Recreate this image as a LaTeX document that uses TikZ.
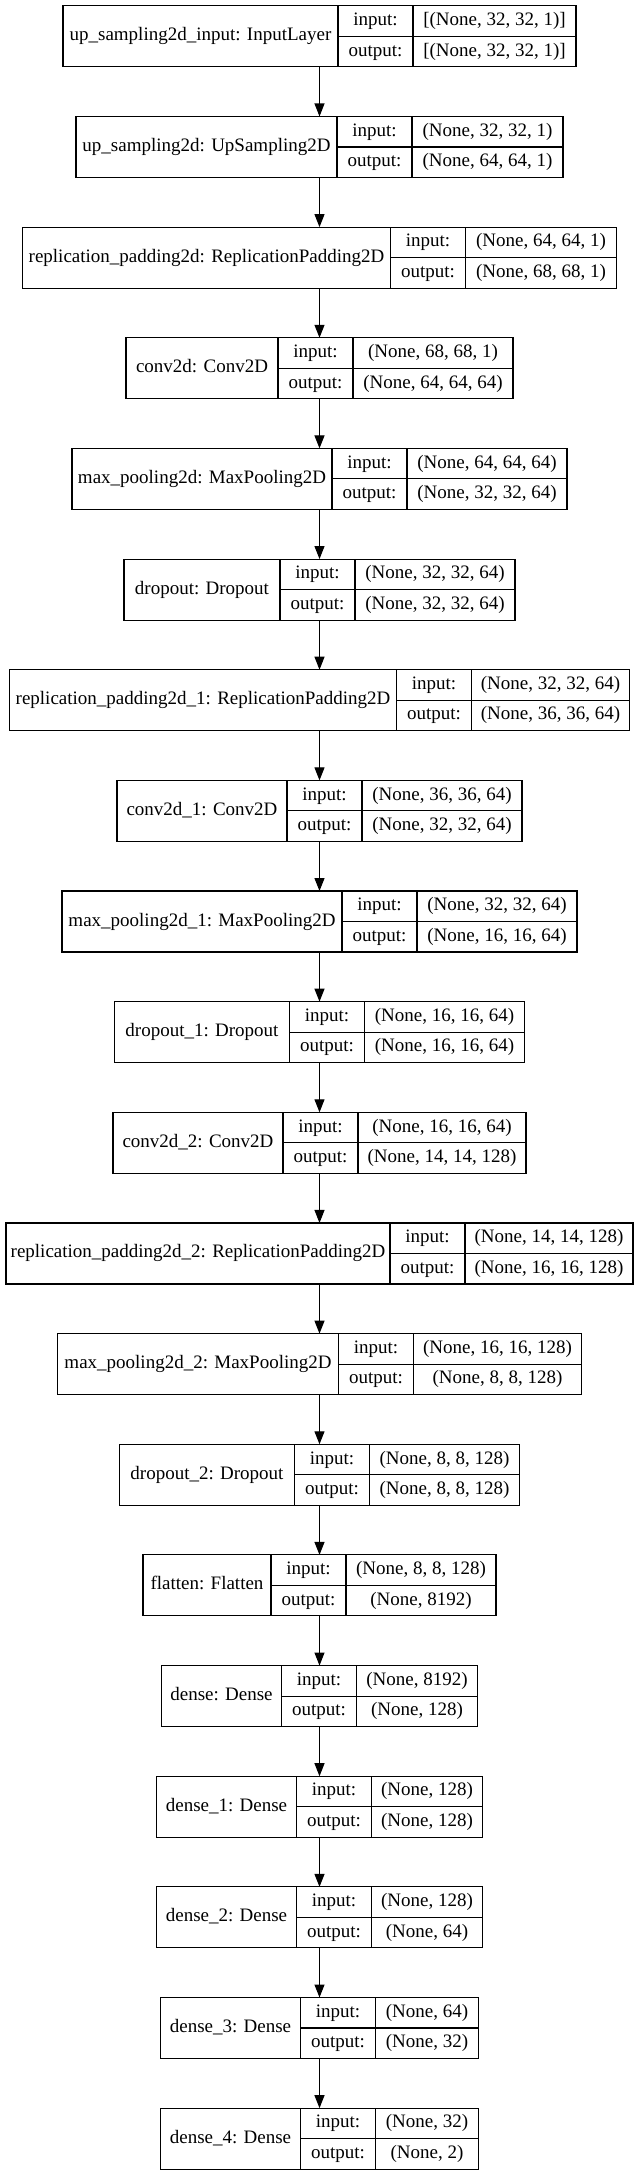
\documentclass[tikz,border=0pt]{standalone}
\usepackage{fontspec}
\setmainfont{Liberation Serif}
\usepackage{tikz}
\usetikzlibrary{arrows.meta,positioning}

% one layer: id, row, name width, value width, title, input, output
\newcommand{\layerbox}[7]{%
  \pgfmathsetmacro{\laytop}{5.8+110.65*(#2-1)}%
  \node[outer, minimum width={(#3+75+#4)*1pt}] (#1) at (319.5,\laytop+30.5) {};
  \node[namecell, minimum width=#3pt, anchor=north west] (#1-name) at (#1.north west) {#5};
  \node[keycell] (#1-in) [right=0pt of #1-name.north east, anchor=north west] {input:};
  \node[keycell] (#1-out) [below=0pt of #1-in] {output:};
  \node[valcell, minimum width=#4pt] (#1-inv) [right=0pt of #1-in] {#6};
  \node[valcell, minimum width=#4pt] (#1-outv) [right=0pt of #1-out] {#7};
}

\begin{document}
\begin{tikzpicture}[
    x=1pt, y=-1pt,
    every node/.style={font=\fontsize{19}{22}\selectfont},
    cell/.style={draw, inner sep=0pt, outer sep=0pt, line width=1.1pt, text height=13pt, text depth=4pt},
    outer/.style={inner sep=0pt, outer sep=0pt, minimum height=61pt},
    namecell/.style={cell, minimum height=61pt},
    keycell/.style={cell, minimum width=75pt, minimum height=30.5pt},
    valcell/.style={cell, minimum height=30.5pt},
    arr/.style={-{Triangle[length=13pt, width=10pt]}, line width=1.1pt}
]
\useasboundingbox (0,0) rectangle (635,2176);
\layerbox{inp}{1}{275}{163}{up\_sampling2d\_input: InputLayer}{[(None, 32, 32, 1)]}{[(None, 32, 32, 1)]}
\layerbox{ups}{2}{261}{151}{up\_sampling2d: UpSampling2D}{(None, 32, 32, 1)}{(None, 64, 64, 1)}
\layerbox{rpad}{3}{368}{151}{replication\_padding2d: ReplicationPadding2D}{(None, 64, 64, 1)}{(None, 68, 68, 1)}
\layerbox{conv}{4}{152}{160}{conv2d: Conv2D}{(None, 68, 68, 1)}{(None, 64, 64, 64)}
\layerbox{pool}{5}{260}{160}{max\_pooling2d: MaxPooling2D}{(None, 64, 64, 64)}{(None, 32, 32, 64)}
\layerbox{drop}{6}{156}{160}{dropout: Dropout}{(None, 32, 32, 64)}{(None, 32, 32, 64)}
\layerbox{rpadA}{7}{387}{158}{replication\_padding2d\_1: ReplicationPadding2D}{(None, 32, 32, 64)}{(None, 36, 36, 64)}
\layerbox{convA}{8}{170}{160}{conv2d\_1: Conv2D}{(None, 36, 36, 64)}{(None, 32, 32, 64)}
\layerbox{poolA}{9}{280}{160}{max\_pooling2d\_1: MaxPooling2D}{(None, 32, 32, 64)}{(None, 16, 16, 64)}
\layerbox{dropA}{10}{175}{160}{dropout\_1: Dropout}{(None, 16, 16, 64)}{(None, 16, 16, 64)}
\layerbox{convB}{11}{170}{168}{conv2d\_2: Conv2D}{(None, 16, 16, 64)}{(None, 14, 14, 128)}
\layerbox{rpadB}{12}{384}{168}{replication\_padding2d\_2: ReplicationPadding2D}{(None, 14, 14, 128)}{(None, 16, 16, 128)}
\layerbox{poolB}{13}{281}{168}{max\_pooling2d\_2: MaxPooling2D}{(None, 16, 16, 128)}{(None, 8, 8, 128)}
\layerbox{dropB}{14}{175}{150}{dropout\_2: Dropout}{(None, 8, 8, 128)}{(None, 8, 8, 128)}
\layerbox{flat}{15}{128}{150}{flatten: Flatten}{(None, 8, 8, 128)}{(None, 8192)}
\layerbox{dense}{16}{120}{121}{dense: Dense}{(None, 8192)}{(None, 128)}
\layerbox{denseA}{17}{140}{111}{dense\_1: Dense}{(None, 128)}{(None, 128)}
\layerbox{denseB}{18}{140}{111}{dense\_2: Dense}{(None, 128)}{(None, 64)}
\layerbox{denseC}{19}{140}{103}{dense\_3: Dense}{(None, 64)}{(None, 32)}
\layerbox{denseD}{20}{140}{103}{dense\_4: Dense}{(None, 32)}{(None, 2)}
\draw[arr] (inp) -- (ups);
\draw[arr] (ups) -- (rpad);
\draw[arr] (rpad) -- (conv);
\draw[arr] (conv) -- (pool);
\draw[arr] (pool) -- (drop);
\draw[arr] (drop) -- (rpadA);
\draw[arr] (rpadA) -- (convA);
\draw[arr] (convA) -- (poolA);
\draw[arr] (poolA) -- (dropA);
\draw[arr] (dropA) -- (convB);
\draw[arr] (convB) -- (rpadB);
\draw[arr] (rpadB) -- (poolB);
\draw[arr] (poolB) -- (dropB);
\draw[arr] (dropB) -- (flat);
\draw[arr] (flat) -- (dense);
\draw[arr] (dense) -- (denseA);
\draw[arr] (denseA) -- (denseB);
\draw[arr] (denseB) -- (denseC);
\draw[arr] (denseC) -- (denseD);
\end{tikzpicture}
\end{document}
